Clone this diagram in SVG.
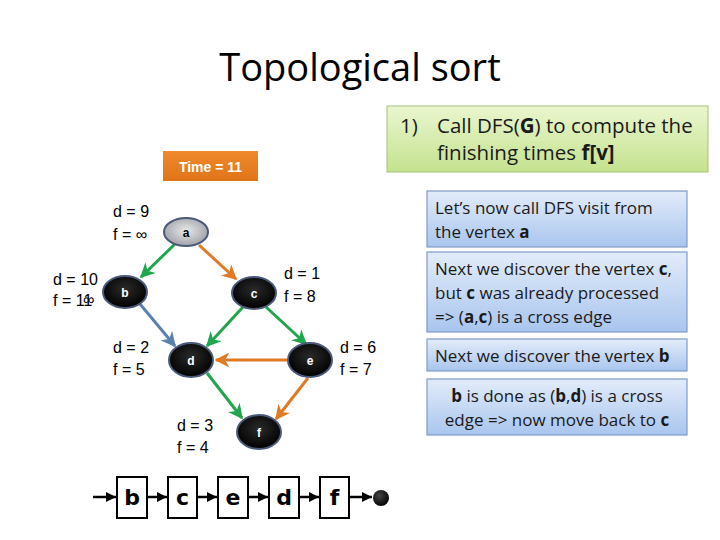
<svg xmlns="http://www.w3.org/2000/svg" width="720" height="540" viewBox="0 0 720 540">
<defs>
<linearGradient id="gBlue" x1="0" y1="0" x2="0" y2="1"><stop offset="0" stop-color="#e3ecfa"/><stop offset="1" stop-color="#a9c5ee"/></linearGradient>
<linearGradient id="gGreen" x1="0" y1="0" x2="0" y2="1"><stop offset="0" stop-color="#eaf6cf"/><stop offset="1" stop-color="#c4e28e"/></linearGradient>
<linearGradient id="gOrange" x1="0" y1="0" x2="0" y2="1"><stop offset="0" stop-color="#f08a2c"/><stop offset="1" stop-color="#e07419"/></linearGradient>
<radialGradient id="gBlack" cx="0.5" cy="0.4" r="0.6"><stop offset="0" stop-color="#2a2a2a"/><stop offset="1" stop-color="#000"/></radialGradient>
<radialGradient id="gGray" cx="0.5" cy="0.45" r="0.6"><stop offset="0" stop-color="#e8e8e8"/><stop offset="1" stop-color="#9a9ca3"/></radialGradient>
<radialGradient id="gDot" cx="0.4" cy="0.35" r="0.7"><stop offset="0" stop-color="#444"/><stop offset="1" stop-color="#000"/></radialGradient>
<marker id="mG" viewBox="0 0 10 10" refX="9" refY="5" markerWidth="5" markerHeight="5" orient="auto" markerUnits="strokeWidth"><path d="M0,0 L10,5 L0,10 L3,5 z" fill="#20a64c"/></marker>
<marker id="mO" viewBox="0 0 10 10" refX="9" refY="5" markerWidth="5" markerHeight="5" orient="auto" markerUnits="strokeWidth"><path d="M0,0 L10,5 L0,10 L3,5 z" fill="#e07a25"/></marker>
<marker id="mB" viewBox="0 0 10 10" refX="9" refY="5" markerWidth="5" markerHeight="5" orient="auto" markerUnits="strokeWidth"><path d="M0,0 L10,5 L0,10 L3,5 z" fill="#5b80b2"/></marker>
<marker id="mK" viewBox="0 0 10 10" refX="10" refY="5" markerWidth="4" markerHeight="4" orient="auto" markerUnits="strokeWidth"><path d="M0,0 L10,5 L0,10 z" fill="#000"/></marker>
</defs>
<style>
.title{font-family:"Open Sans","Liberation Sans",sans-serif;font-size:38px;fill:#000}
.box{font-family:"Open Sans","Liberation Sans",sans-serif;font-size:17px;fill:#1a1a1a}
.big{font-family:"Open Sans","Liberation Sans",sans-serif;font-size:20.5px;fill:#1a1a1a}
.lbl{font-family:"Liberation Sans",sans-serif;font-size:16px;fill:#000}
.nt{font-family:"Liberation Sans",sans-serif;font-size:12px;font-weight:bold;fill:#fff;text-anchor:middle}
.li{font-family:"DejaVu Sans","Liberation Sans",sans-serif;font-size:22px;font-weight:bold;fill:#000;text-anchor:middle}
.bx{fill:url(#gBlue);stroke:#7f9cc6;stroke-width:1.2}
.blk{fill:url(#gBlack);stroke:#4a5a78;stroke-width:2}
.lb{fill:#fff;stroke:#000;stroke-width:2}
</style>
<text class="title" x="360" y="81" text-anchor="middle">Topological sort</text>

<g id="step1">
<rect x="387" y="106" width="321" height="66" fill="url(#gGreen)" stroke="#a5c27a" stroke-width="1"/>
<text class="big" x="400" y="133">1)<tspan x="437">Call DFS(</tspan><tspan font-weight="bold">G</tspan>) to compute the</text>
<text class="big" x="437" y="160">finishing times <tspan font-weight="bold">f[v]</tspan></text>
</g>

<g id="time">
<rect x="163" y="151" width="95" height="30" fill="url(#gOrange)"/>
<text x="210.5" y="171.5" text-anchor="middle" font-family="Liberation Sans, sans-serif" font-size="14" font-weight="bold" fill="#fff">Time = 11</text>
</g>

<g id="note1">
<rect class="bx" x="427" y="191" width="260" height="56"/>
<text class="box" x="435" y="214">Let’s now call DFS visit from</text>
<text class="box" x="435" y="238">the vertex <tspan font-weight="bold">a</tspan></text>
</g>
<g id="note2">
<rect class="bx" x="427" y="252" width="260" height="80"/>
<text class="box" x="435" y="275">Next we discover the vertex <tspan font-weight="bold">c</tspan>,</text>
<text class="box" x="435" y="299">but <tspan font-weight="bold">c</tspan> was already processed</text>
<text class="box" x="435" y="323">=&gt; (<tspan font-weight="bold">a</tspan>,<tspan font-weight="bold">c</tspan>) is a cross edge</text>
</g>
<g id="note3">
<rect class="bx" x="427" y="339" width="260" height="32"/>
<text class="box" x="435" y="362">Next we discover the vertex <tspan font-weight="bold">b</tspan></text>
</g>
<g id="note4">
<rect class="bx" x="427" y="379" width="260" height="56"/>
<text class="box" x="557" y="402" text-anchor="middle"><tspan font-weight="bold">b</tspan> is done as (<tspan font-weight="bold">b</tspan>,<tspan font-weight="bold">d</tspan>) is a cross</text>
<text class="box" x="557" y="426" text-anchor="middle">edge =&gt; now move back to <tspan font-weight="bold">c</tspan></text>
</g>

<g id="connectors" fill="none" stroke-width="3">
<line x1="175" y1="244" x2="141" y2="277" stroke="#20a64c" marker-end="url(#mG)"/>
<line x1="199" y1="245" x2="236" y2="279" stroke="#e07a25" marker-end="url(#mO)"/>
<line x1="140" y1="304" x2="175" y2="346" stroke="#5b80b2" marker-end="url(#mB)"/>
<line x1="243" y1="307" x2="207" y2="346" stroke="#20a64c" marker-end="url(#mG)"/>
<line x1="266" y1="307" x2="306" y2="344" stroke="#20a64c" marker-end="url(#mG)"/>
<line x1="287" y1="360" x2="216" y2="360" stroke="#e07a25" marker-end="url(#mO)"/>
<line x1="207" y1="373" x2="242" y2="418" stroke="#20a64c" marker-end="url(#mG)"/>
<line x1="308" y1="378" x2="276" y2="419" stroke="#e07a25" marker-end="url(#mO)"/>
</g>

<g id="node-a">
<ellipse cx="186" cy="232" rx="22" ry="14" fill="url(#gGray)" stroke="#4a5a78" stroke-width="2"/>
<text class="nt" x="186" y="237" style="fill:#000">a</text>
<text class="lbl" x="113" y="217">d = 9</text>
<text class="lbl" x="113" y="240">f = ∞</text>
</g>
<g id="node-b">
<ellipse class="blk" cx="125" cy="292" rx="22" ry="16"/>
<text class="nt" x="125" y="297">b</text>
<text class="lbl" x="53" y="285">d = 10</text>
<text class="lbl" x="53" y="306">f = 11</text>
<text class="lbl" x="83" y="305" font-size="12">∞</text>
</g>
<g id="node-c">
<ellipse class="blk" cx="254" cy="293" rx="22" ry="16"/>
<text class="nt" x="254" y="298">c</text>
<text class="lbl" x="284" y="279">d = 1</text>
<text class="lbl" x="284" y="302">f = 8</text>
</g>
<g id="node-d">
<ellipse class="blk" cx="191" cy="360" rx="22" ry="17"/>
<text class="nt" x="191" y="365">d</text>
<text class="lbl" x="113" y="353">d = 2</text>
<text class="lbl" x="113" y="375">f = 5</text>
</g>
<g id="node-e">
<ellipse class="blk" cx="310" cy="360" rx="22" ry="17"/>
<text class="nt" x="310" y="365">e</text>
<text class="lbl" x="340" y="353">d = 6</text>
<text class="lbl" x="340" y="375">f = 7</text>
</g>
<g id="node-f">
<ellipse class="blk" cx="259" cy="432" rx="22" ry="17"/>
<text class="nt" x="259" y="437">f</text>
<text class="lbl" x="177" y="431">d = 3</text>
<text class="lbl" x="177" y="453">f = 4</text>
</g>

<g id="list-arrows" stroke="#000" stroke-width="2.5" fill="none">
<line x1="93" y1="497" x2="116" y2="497" marker-end="url(#mK)"/>
<line x1="147" y1="497" x2="167" y2="497" marker-end="url(#mK)"/>
<line x1="197" y1="497" x2="217" y2="497" marker-end="url(#mK)"/>
<line x1="248" y1="497" x2="268" y2="497" marker-end="url(#mK)"/>
<line x1="299" y1="497" x2="319" y2="497" marker-end="url(#mK)"/>
<line x1="349" y1="497" x2="372" y2="497" marker-end="url(#mK)"/>
</g>
<g id="list-b"><rect class="lb" x="117" y="477" width="30" height="41"/><text class="li" x="132" y="505">b</text></g>
<g id="list-c"><rect class="lb" x="168" y="477" width="29" height="41"/><text class="li" x="182.5" y="505">c</text></g>
<g id="list-e"><rect class="lb" x="218" y="477" width="30" height="41"/><text class="li" x="233" y="505">e</text></g>
<g id="list-d"><rect class="lb" x="269" y="477" width="30" height="41"/><text class="li" x="284" y="505">d</text></g>
<g id="list-f"><rect class="lb" x="320" y="477" width="29" height="41"/><text class="li" x="334.5" y="505">f</text></g>
<g id="list-end"><circle cx="381" cy="498" r="8" fill="url(#gDot)"/></g>
</svg>
